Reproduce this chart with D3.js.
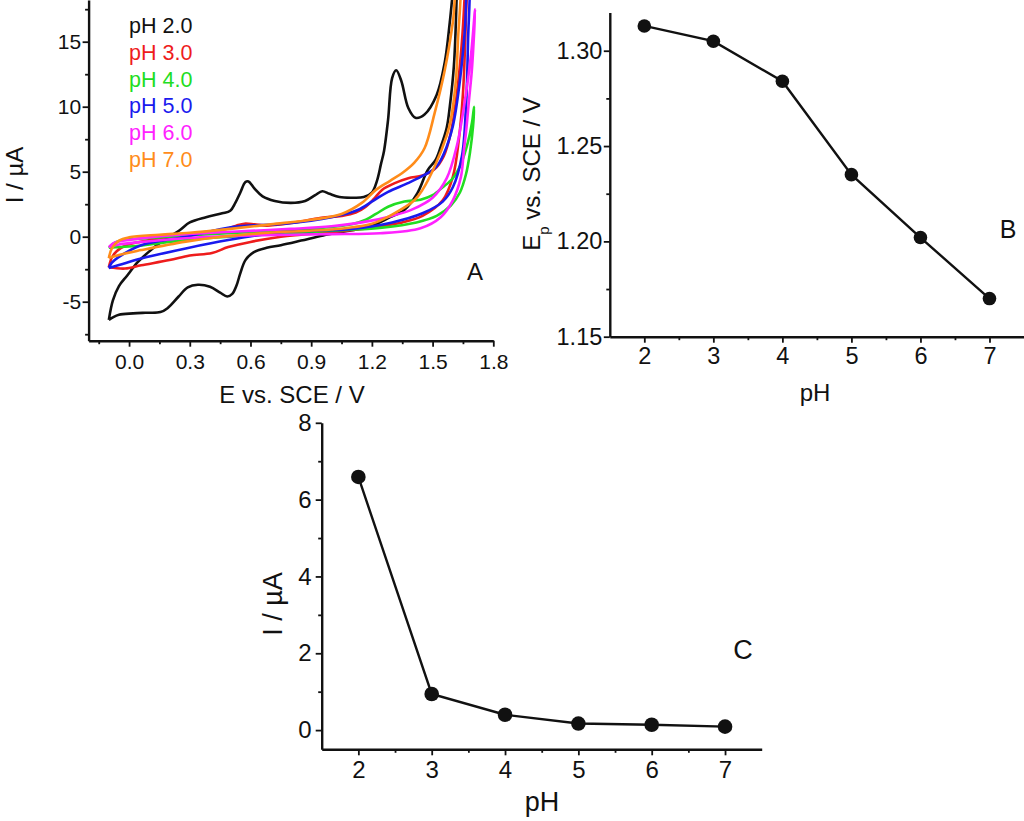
<!DOCTYPE html>
<html>
<head>
<meta charset="utf-8">
<script src="https://cdn.jsdelivr.net/npm/d3@7"></script>
<style>
  body { margin: 0; background: #fff; }
  svg text { font-family: "Liberation Sans", Arial, sans-serif; fill: #111; }
  .axis path, .axis line { stroke: #111; }
</style>
</head>
<body>
<div id="app"></div>
<script>
// ---- panel A: cyclic voltammograms, [E (V), I (uA)] ----
const cvPH2 = [
  [-0.10,-6.4],[-0.08,-4.9],[-0.05,-3.8],[-0.01,-3.0],[0.04,-2.0],[0.08,-1.4],[0.15,-0.5],[0.25,0.5],
  [0.30,1.1],[0.38,1.5],[0.46,1.8],[0.50,2.0],[0.525,2.6],[0.55,3.4],[0.575,4.2],[0.59,4.25],[0.62,3.7],
  [0.66,3.1],[0.72,2.75],[0.80,2.6],[0.87,2.75],[0.92,3.2],[0.955,3.5],[0.99,3.3],[1.04,3.05],[1.10,3.0],
  [1.16,3.05],[1.20,3.4],[1.225,4.3],[1.245,5.6],[1.26,6.6],[1.28,9.0],[1.30,12.2],[1.32,12.8],[1.345,12.0],
  [1.38,9.9],[1.415,9.15],[1.46,9.4],[1.52,10.9],[1.56,13.4],[1.585,16.5],[1.60,18.8],[1.61,20],
  [1.62,20],[1.618,18],[1.605,13.1],[1.585,10],[1.57,8.4],[1.54,6.9],[1.515,5.9],[1.475,5.1],[1.425,3.35],
  [1.36,2.05],[1.29,1.5],[1.21,0.9],[1.10,0.5],[0.96,0.1],[0.85,-0.3],[0.75,-0.65],[0.68,-0.85],[0.615,-1.2],
  [0.575,-1.8],[0.55,-2.8],[0.53,-3.8],[0.51,-4.4],[0.485,-4.6],[0.45,-4.3],[0.40,-3.85],[0.34,-3.7],
  [0.29,-3.9],[0.245,-4.6],[0.19,-5.5],[0.155,-5.8],[0.08,-5.85],[0.02,-5.9],[-0.05,-6.0],[-0.08,-6.2],[-0.10,-6.4]
];
const cvPH3 = [
  [-0.10,-2.35],[-0.085,-1.6],[-0.06,-1.1],[-0.02,-0.7],[0.05,-0.4],[0.2,0.0],[0.35,0.3],[0.48,0.6],
  [0.53,0.85],[0.57,1.0],[0.62,0.95],[0.68,0.85],[0.8,1.05],[0.95,1.45],[1.05,1.6],[1.12,1.85],[1.17,2.3],
  [1.21,2.9],[1.25,3.6],[1.31,4.1],[1.38,4.5],[1.45,4.7],[1.51,5.2],[1.555,6.2],[1.59,8.0],[1.62,11],
  [1.645,15],[1.66,19],[1.665,21],
  [1.67,21],[1.665,17],[1.65,11],[1.63,7.5],[1.60,4.6],[1.55,2.8],[1.45,1.6],[1.35,1.1],[1.2,0.7],
  [1.0,0.35],[0.85,0.15],[0.75,0.0],[0.6,-0.4],[0.49,-0.8],[0.41,-1.25],[0.3,-1.45],[0.2,-1.8],
  [0.06,-2.2],[-0.02,-2.45],[-0.10,-2.35]
];
const cvPH4 = [
  [-0.10,-0.85],[-0.08,-0.55],[-0.04,-0.3],[0.05,-0.15],[0.2,0.0],[0.4,0.2],[0.6,0.35],[0.8,0.5],
  [1.0,0.75],[1.1,0.95],[1.17,1.3],[1.22,1.75],[1.28,2.3],[1.36,2.7],[1.44,2.85],[1.50,3.2],[1.55,3.8],
  [1.60,4.5],[1.64,5.6],[1.675,7.3],[1.695,8.8],[1.705,10.0],
  [1.70,8.5],[1.685,6.5],[1.665,4.8],[1.635,3.4],[1.59,2.4],[1.52,1.6],[1.42,1.1],[1.25,0.7],[1.05,0.5],
  [0.85,0.3],[0.6,0.1],[0.4,-0.1],[0.2,-0.4],[0.05,-0.7],[-0.05,-0.8],[-0.10,-0.85]
];
const cvPH5 = [
  [-0.10,-2.4],[-0.085,-2.0],[-0.05,-1.55],[0.06,-0.65],[0.28,0.0],[0.51,0.75],[0.77,1.0],[1.0,1.5],
  [1.13,2.05],[1.21,2.8],[1.28,3.45],[1.375,4.1],[1.46,4.75],[1.52,5.4],[1.556,6.4],[1.60,8.5],[1.635,12],
  [1.66,16],[1.675,20],
  [1.68,20],[1.675,15],[1.665,10],[1.645,6.2],[1.60,3.8],[1.55,2.7],[1.45,1.8],[1.3,1.1],[1.1,0.6],
  [0.9,0.45],[0.77,0.38],[0.49,-0.26],[0.28,-0.9],[0.06,-1.67],[-0.05,-2.18],[-0.10,-2.4]
];
const cvPH6 = [
  [-0.10,-0.8],[-0.07,-0.45],[0.0,-0.25],[0.2,0.1],[0.4,0.3],[0.6,0.45],[0.8,0.6],[1.0,0.8],[1.15,1.1],
  [1.3,1.6],[1.4,2.1],[1.5,3.0],[1.57,4.5],[1.62,7.0],[1.66,10.5],[1.69,14],[1.71,17.5],
  [1.695,13],[1.68,10.5],[1.665,8],[1.655,6.7],[1.64,4.6],[1.60,2.8],[1.54,1.5],[1.44,0.65],[1.24,0.26],
  [1.0,0.2],[0.8,0.15],[0.6,0.1],[0.3,-0.1],[0.1,-0.35],[-0.05,-0.6],[-0.10,-0.8]
];
const cvPH7 = [
  [-0.10,-1.65],[-0.085,-0.9],[-0.05,-0.3],[0.0,-0.05],[0.15,0.15],[0.3,0.3],[0.5,0.6],[0.7,0.95],
  [0.9,1.3],[1.05,1.75],[1.15,2.6],[1.22,3.6],[1.29,4.3],[1.35,4.9],[1.41,5.7],[1.46,6.8],[1.51,9.5],
  [1.56,12.8],[1.60,16.5],[1.625,20],
  [1.635,20],[1.625,15],[1.615,12],[1.59,9],[1.57,7.8],[1.51,5.4],[1.45,3.6],[1.41,2.8],[1.3,1.7],
  [1.2,1.0],[1.0,0.55],[0.77,0.38],[0.49,0.05],[0.28,-0.38],[0.06,-1.03],[-0.05,-1.4],[-0.10,-1.65]
];
const cvSeries = [cvPH2, cvPH3, cvPH4, cvPH5, cvPH6, cvPH7];
const cvLabels = ["pH 2.0", "pH 3.0", "pH 4.0", "pH 5.0", "pH 6.0", "pH 7.0"];
const cvColors = ["#111111", "#ee1c1c", "#22dd22", "#1a1aee", "#ff22ff", "#ff8c1a"];

// ---- panels B and C ----
const phValues = [2, 3, 4, 5, 6, 7];
const peakPotential = [1.313, 1.305, 1.284, 1.235, 1.202, 1.170];
const peakCurrent = [6.59, 0.94, 0.40, 0.17, 0.14, 0.09];

const svg = d3.select("#app").append("svg")
    .attr("width", 1024)
    .attr("height", 821);

// draws both axes with major + minor ticks
function drawAxes(g, x, y, opt) {
    const xAxis = g.append("g").attr("class", "axis")
        .attr("transform", `translate(0,${y.range()[0]})`)
        .call(d3.axisBottom(x).tickValues(opt.xTicks).tickFormat(opt.xFormat)
            .tickSize(6).tickSizeOuter(0).tickPadding(opt.xPad));
    xAxis.append("g").call(d3.axisBottom(x).tickValues(opt.xMinor).tickFormat("").tickSize(3.5).tickSizeOuter(0))
        .select(".domain").remove();
    const yAxis = g.append("g").attr("class", "axis")
        .attr("transform", `translate(${x.range()[0]},0)`)
        .call(d3.axisLeft(y).tickValues(opt.yTicks).tickFormat(opt.yFormat)
            .tickSize(6).tickSizeOuter(0).tickPadding(opt.yPad));
    yAxis.append("g").call(d3.axisLeft(y).tickValues(opt.yMinor).tickFormat("").tickSize(3.5).tickSizeOuter(0))
        .select(".domain").remove();
    [xAxis, yAxis].forEach(a => {
        a.selectAll("path.domain").attr("stroke-width", 2.4);
        a.selectAll("line").attr("stroke-width", 1.8);
        a.selectAll("text").style("font-size", opt.fontSize + "px").attr("fill", "#111");
    });
}

// ---------------- panel A ----------------
const xA = d3.scaleLinear([-0.2, 1.8], [88.6, 493.3]);
const yA = d3.scaleLinear([-8, 18.2], [340.7, 0.1]);
const gA = svg.append("g");

svg.append("clipPath").attr("id", "clipA")
    .append("rect").attr("x", 88.6).attr("y", 0).attr("width", 493.3 - 88.6).attr("height", 340.7);

const lineA = d3.line().x(d => xA(d[0])).y(d => yA(d[1])).curve(d3.curveCatmullRom.alpha(0.5));
gA.append("g").attr("clip-path", "url(#clipA)")
    .selectAll("path")
    .data(cvSeries)
    .join("path")
    .attr("d", lineA)
    .attr("fill", "none")
    .attr("stroke", (d, i) => cvColors[i])
    .attr("stroke-width", 2.6)
    .attr("stroke-linejoin", "round");

drawAxes(gA, xA, yA, {
    xTicks: [0, 0.3, 0.6, 0.9, 1.2, 1.5, 1.8], xMinor: [-0.15, 0.15, 0.45, 0.75, 1.05, 1.35, 1.65],
    xFormat: d3.format(".1f"), xPad: 7,
    yTicks: [-5, 0, 5, 10, 15], yMinor: [-7.5, -2.5, 2.5, 7.5, 12.5, 17.5],
    yFormat: d => d < 0 ? "-" + Math.abs(d) : d, yPad: 1.5,
    fontSize: 21
});

gA.selectAll(".legend")
    .data(cvLabels)
    .join("text")
    .attr("class", "legend")
    .attr("x", 129)
    .attr("y", (d, i) => 33 + i * 26.8)
    .style("font-size", "21.5px")
    .style("fill", (d, i) => cvColors[i])
    .text(d => d);

gA.append("text").attr("x", 475).attr("y", 280).attr("text-anchor", "middle")
    .style("font-size", "24px").text("A");
gA.append("text").attr("x", 292).attr("y", 403).attr("text-anchor", "middle")
    .style("font-size", "24px").text("E vs. SCE / V");
gA.append("text").attr("transform", "translate(23,175) rotate(-90)").attr("text-anchor", "middle")
    .style("font-size", "24px").text("I / µA");

// ---------------- panel B ----------------
const xB = d3.scaleLinear([1.5, 7.5], [609.8, 1024]);
const yB = d3.scaleLinear([1.15, 1.32], [336.7, 12.6]);
const gB = svg.append("g");

drawAxes(gB, xB, yB, {
    xTicks: phValues, xMinor: [2.5, 3.5, 4.5, 5.5, 6.5], xFormat: d3.format("d"), xPad: 5,
    yTicks: [1.15, 1.20, 1.25, 1.30], yMinor: [1.175, 1.225, 1.275],
    yFormat: d3.format(".2f"), yPad: 1.5,
    fontSize: 23.5
});

gB.append("path")
    .datum(phValues.map((p, i) => [p, peakPotential[i]]))
    .attr("d", d3.line().x(d => xB(d[0])).y(d => yB(d[1])))
    .attr("fill", "none").attr("stroke", "#111").attr("stroke-width", 2.4);
gB.selectAll("circle")
    .data(phValues.map((p, i) => [p, peakPotential[i]]))
    .join("circle")
    .attr("cx", d => xB(d[0])).attr("cy", d => yB(d[1])).attr("r", 6.8).attr("fill", "#111");

gB.append("text").attr("x", 1008).attr("y", 238).attr("text-anchor", "middle")
    .style("font-size", "25px").text("B");
gB.append("text").attr("x", 815).attr("y", 401).attr("text-anchor", "middle")
    .style("font-size", "24px").text("pH");
const yLabB = gB.append("text").attr("transform", "translate(540,174) rotate(-90)").attr("text-anchor", "middle")
    .style("font-size", "24px");
yLabB.append("tspan").text("E");
yLabB.append("tspan").attr("baseline-shift", "sub").style("font-size", "15px").text("p");
yLabB.append("tspan").text(" vs. SCE / V");

// ---------------- panel C ----------------
const xC = d3.scaleLinear([1.5, 7.5], [321.7, 761.7]);
const yC = d3.scaleLinear([-0.5, 8], [749.3, 422.8]);
const gC = svg.append("g");

drawAxes(gC, xC, yC, {
    xTicks: phValues, xMinor: [2.5, 3.5, 4.5, 5.5, 6.5], xFormat: d3.format("d"), xPad: 6,
    yTicks: [0, 2, 4, 6, 8], yMinor: [1, 3, 5, 7], yFormat: d3.format("d"), yPad: 4,
    fontSize: 24
});

gC.append("path")
    .datum(phValues.map((p, i) => [p, peakCurrent[i]]))
    .attr("d", d3.line().x(d => xC(d[0])).y(d => yC(d[1])))
    .attr("fill", "none").attr("stroke", "#111").attr("stroke-width", 2.4);
gC.selectAll("circle")
    .data(phValues.map((p, i) => [p, peakCurrent[i]]))
    .join("circle")
    .attr("cx", d => xC(d[0])).attr("cy", d => yC(d[1])).attr("r", 7.3).attr("fill", "#111");

gC.append("text").attr("x", 743).attr("y", 659).attr("text-anchor", "middle")
    .style("font-size", "27px").text("C");
gC.append("text").attr("x", 542).attr("y", 811).attr("text-anchor", "middle")
    .style("font-size", "27px").text("pH");
gC.append("text").attr("transform", "translate(282,604) rotate(-90)").attr("text-anchor", "middle")
    .style("font-size", "27px").text("I / µA");
</script>
</body>
</html>
